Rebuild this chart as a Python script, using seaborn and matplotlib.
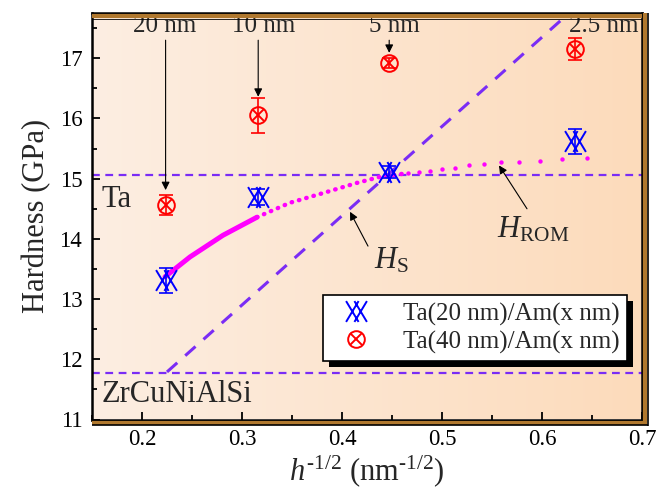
import numpy as np
import pandas as pd
import matplotlib
matplotlib.use("Agg")
import matplotlib.pyplot as plt
import seaborn as sns
from matplotlib.path import Path
from matplotlib.markers import MarkerStyle
from matplotlib.lines import Line2D
import matplotlib.patheffects as pe

# ---------------- data ----------------
h_inv_sqrt = [0.2236, 0.3162, 0.4472, 0.6325]
thickness_labels = ["20 nm", "10 nm", "5 nm", "2.5 nm"]
label_x = [0.2225, 0.3215, 0.452, 0.6615]
hard_ta20 = [13.31, 14.70, 15.11, 15.62]
err_ta20 = [0.21, 0.13, 0.10, 0.21]
hard_ta40 = [14.56, 16.05, 16.92, 17.15]
err_ta40 = [0.17, 0.29, 0.08, 0.18]
arrow_tip_y = [14.81, 16.36, 17.09]

H_Ta = 15.06
H_Am = 11.78

hs_x = [0.225, 0.627]
hs_y = [11.79, 17.75]

rom_x_solid = [0.223, 0.248, 0.281, 0.315]
rom_y_solid = [13.37, 13.70, 14.06, 14.36]
rom_x_dot = [0.315, 0.348, 0.381, 0.415, 0.438, 0.455, 0.466]
rom_y_dot = [14.36, 14.60, 14.76, 14.93, 15.03, 15.07, 15.09]
rom_x_pts = [0.466, 0.477, 0.488, 0.500, 0.513, 0.527, 0.542, 0.559, 0.577, 0.598, 0.620, 0.645]
rom_y_pts = [15.09, 15.11, 15.13, 15.16, 15.18, 15.22, 15.24, 15.27, 15.28, 15.30, 15.33, 15.34]

# ---------------- style ----------------
sns.set_theme(style="ticks")
plt.rcParams["font.family"] = ["Liberation Serif", "DejaVu Serif"]
plt.rcParams["mathtext.fontset"] = "custom"
plt.rcParams["mathtext.rm"] = "Liberation Serif"
plt.rcParams["mathtext.it"] = "Liberation Serif:italic"

VIOLET = "#7a2cf5"
MAGENTA = "#ff00ff"
BROWN = "#b0782e"

W, H = 661, 500
fig = plt.figure(figsize=(6.61, 5.0), dpi=100)
ax_l, ax_r, ax_t, ax_b = 92, 642, 12.5, 419.5
ax = fig.add_axes([ax_l / W, 1 - ax_b / H, (ax_r - ax_l) / W, (ax_b - ax_t) / H])
ax.set_xlim(0.15, 0.7)
ax.set_ylim(11, 17.76)

# background gradient
grad = np.linspace(0, 1, 256)[None, :]
c0 = np.array([253, 238, 226]) / 255
c1 = np.array([252, 219, 187]) / 255
img = c0[None, None, :] * (1 - grad[..., None]) + c1[None, None, :] * grad[..., None]
ax.imshow(img, extent=[0.15, 0.7, 11, 17.76], aspect="auto", zorder=0)

# reference lines
ax.axhline(H_Ta, color=VIOLET, lw=1.6, dashes=(3.5, 2.5), zorder=2)
ax.axhline(H_Am, color=VIOLET, lw=1.6, dashes=(3.5, 2.5), zorder=2)
sns.lineplot(x=hs_x, y=hs_y, ax=ax, color=VIOLET, lw=2.2, zorder=2)
ax.lines[-1].set_dashes((4.5, 3.5))

# rule of mixtures curve
sns.lineplot(x=rom_x_solid, y=rom_y_solid, ax=ax, color=MAGENTA, lw=3.6,
             solid_capstyle="round", zorder=3)
sns.lineplot(x=rom_x_dot, y=rom_y_dot, ax=ax, color=MAGENTA, lw=3.2, zorder=3)
ax.lines[-1].set_dashes((0.1, 1.6))
ax.lines[-1].set_dash_capstyle("round")
sns.scatterplot(x=rom_x_pts, y=rom_y_pts, ax=ax, color=MAGENTA, s=10,
                linewidth=0, zorder=3)

# markers
verts, codes = [], []
for c in (-0.4, 0.4):
    verts += [(c - 0.6, -1), (c + 0.6, 1), (c - 0.6, 1), (c + 0.6, -1)]
    codes += [Path.MOVETO, Path.LINETO, Path.MOVETO, Path.LINETO]
lattice = MarkerStyle(Path(verts, codes))

ax.errorbar(h_inv_sqrt, hard_ta20, yerr=err_ta20, fmt="none", ecolor="blue",
            elinewidth=1.2, capsize=5, capthick=1.2, zorder=4)
ax.plot(h_inv_sqrt, hard_ta20, ls="none", marker=lattice, ms=15, mfc="none",
        mec="blue", mew=1.4, zorder=5)

ax.errorbar(h_inv_sqrt, hard_ta40, yerr=err_ta40, fmt="none", ecolor="red",
            elinewidth=1.2, capsize=5, capthick=1.2, zorder=4)
ax.plot(h_inv_sqrt, hard_ta40, ls="none", marker="o", ms=12, mfc="none",
        mec="red", mew=1.4, zorder=5)
ax.plot(h_inv_sqrt, hard_ta40, ls="none", marker="x", ms=9, mec="red",
        mew=1.4, zorder=5)

# thickness annotations
for i, lab in enumerate(thickness_labels):
    ax.text(label_x[i], 17.44, lab, ha="center", va="baseline", fontsize=18,
            zorder=6)
    if i < 3:
        ax.annotate("", xy=(h_inv_sqrt[i], arrow_tip_y[i]),
                    xytext=(h_inv_sqrt[i], 17.30),
                    arrowprops=dict(arrowstyle="-|>", color="black", lw=0.8,
                                    mutation_scale=12, shrinkA=0, shrinkB=0),
                    zorder=6)

# model labels
ax.annotate("", xy=(0.408, 14.45), xytext=(0.426, 13.88),
            arrowprops=dict(arrowstyle="-|>", color="black", lw=0.8,
                            mutation_scale=12, shrinkA=0, shrinkB=0))
ax.text(0.432, 13.50, r"$H_\mathrm{S}$", fontsize=22, ha="left", va="baseline")
ax.annotate("", xy=(0.557, 15.22), xytext=(0.585, 14.50),
            arrowprops=dict(arrowstyle="-|>", color="black", lw=0.8,
                            mutation_scale=12, shrinkA=0, shrinkB=0))
ax.text(0.555, 14.03, r"$H_\mathrm{ROM}$", fontsize=22, ha="left", va="baseline")

ax.text(0.160, 14.53, "Ta", fontsize=22, ha="left", va="baseline")
ax.text(0.160, 11.29, "ZrCuNiAlSi", fontsize=22, ha="left", va="baseline")

# axes styling
ax.set_xticks([0.2, 0.3, 0.4, 0.5, 0.6, 0.7])
ax.set_xticks(np.arange(0.15, 0.70, 0.05), minor=True)
ax.set_yticks([11, 12, 13, 14, 15, 16, 17])
ax.set_yticks(np.arange(11, 17.8, 0.5), minor=True)
ax.set_xticklabels(["0.2", "0.3", "0.4", "0.5", "0.6", "0.7"])
ax.tick_params(which="both", direction="in", top=False, right=False,
               width=1.3, colors="black", labelsize=16.5)
ax.tick_params(which="major", length=6, pad=7)
ax.tick_params(which="minor", length=3.5)
for s in ax.spines.values():
    s.set_color("black")
    s.set_linewidth(1.8)
    s.set_zorder(7)

ax.set_xlabel(r"$h^{\text{-1/2}}$ (nm$^{\text{-1/2}}$)", fontsize=22, labelpad=2)
ax.set_ylabel("Hardness (GPa)", fontsize=22, labelpad=6)

# frame decoration (brown band)
def fline(x0, y0, x1, y1, color, lw):
    fig.add_artist(Line2D([x0 / W, x1 / W], [1 - y0 / H, 1 - y1 / H],
                          transform=fig.transFigure, color=color, lw=lw,
                          solid_capstyle="butt", zorder=10))

fline(ax_l, 16, ax_r, 16, BROWN, 3.0)
fline(ax_l, 18.5, ax_r, 18.5, "black", 0.6)
fline(ax_r + 3, ax_t, ax_r + 3, ax_b + 3.5, BROWN, 3.0)
fline(ax_l, ax_b + 3, ax_r + 5, ax_b + 3, BROWN, 3.0)
fline(ax_r + 5.5, ax_t, ax_r + 5.5, ax_b + 6, "black", 1.2)
fline(ax_l, ax_b + 5.5, ax_r + 6, ax_b + 5.5, "black", 1.2)

# legend
h1 = Line2D([], [], ls="none", marker=lattice, ms=15, mfc="none", mec="blue", mew=1.4)
h2o = Line2D([], [], ls="none", marker="o", ms=12, mfc="none", mec="red", mew=1.4)
h2x = Line2D([], [], ls="none", marker="x", ms=9, mec="red", mew=1.4)
leg = ax.legend([h1, (h2o, h2x)], ["Ta(20 nm)/Am(x nm)", "Ta(40 nm)/Am(x nm)"],
                loc="upper left", bbox_to_anchor=(0.42, 0.306), fontsize=18,
                frameon=True, fancybox=False, edgecolor="black",
                framealpha=1, borderaxespad=0, borderpad=0.3,
                handlelength=2.0, handletextpad=0.9, labelspacing=0.2)
leg.get_frame().set_linewidth(1.2)
leg.get_frame().set_path_effects([
    pe.SimplePatchShadow(offset=(4, -4), shadow_rgbFace="black", alpha=1),
    pe.Normal()])
leg.set_zorder(8)

fig.savefig("out.png", dpi=100)
